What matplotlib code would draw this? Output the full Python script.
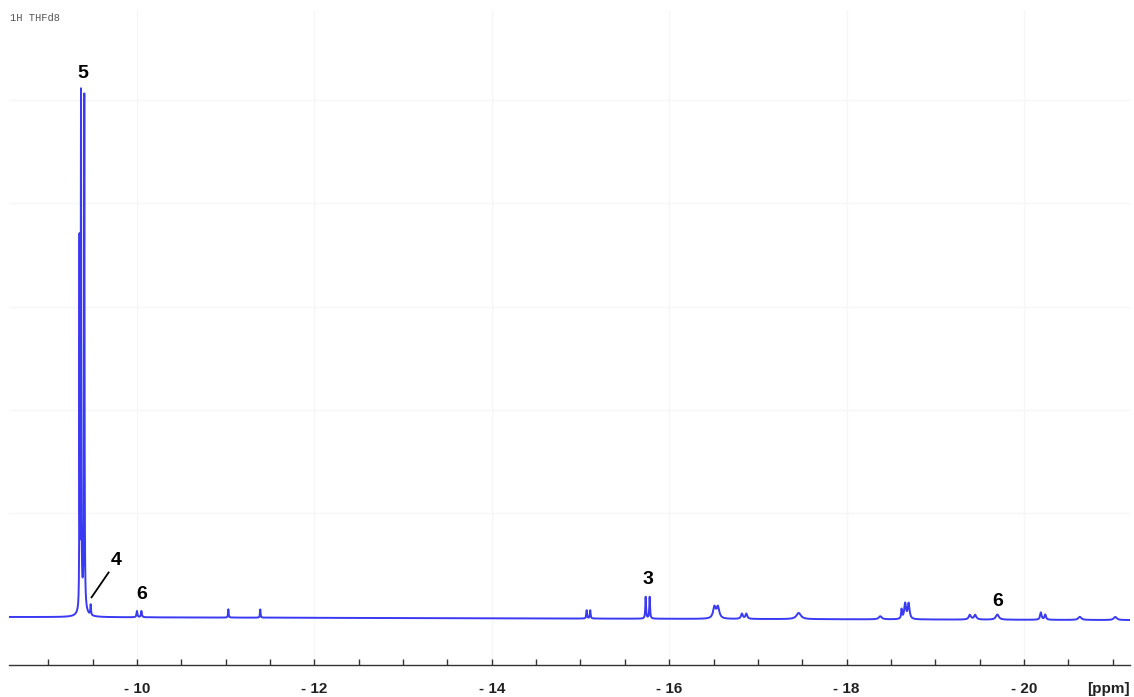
import numpy as np
import matplotlib
matplotlib.use("Agg")
import matplotlib.pyplot as plt
from matplotlib.ticker import MultipleLocator, FixedLocator

# ---- data (ppm, height in grid units, half-width ppm)
peak_ppm    = [-9.352, -9.369, -9.406, -9.39, -9.478, -10.00, -10.05, -11.03, -11.39,
               -15.07, -15.11, -15.735, -15.78, -16.51, -16.55, -16.82, -16.87,
               -17.46, -18.38, -18.62, -18.66, -18.70, -19.39, -19.45, -19.70,
               -20.19, -20.24, -20.63, -21.03]
peak_height = [3.5, 4.95, 4.93, 0.12, 0.10, 0.06, 0.06, 0.08, 0.08,
               0.08, 0.08, 0.21, 0.21, 0.11, 0.11, 0.05, 0.05,
               0.06, 0.03, 0.09, 0.15, 0.15, 0.045, 0.045, 0.05,
               0.07, 0.05, 0.03, 0.03]
peak_width  = [0.002, 0.003, 0.003, 0.03, 0.004, 0.006, 0.006, 0.004, 0.004,
               0.005, 0.005, 0.005, 0.005, 0.018, 0.018, 0.012, 0.012,
               0.03, 0.02, 0.006, 0.012, 0.012, 0.015, 0.015, 0.02,
               0.01, 0.01, 0.02, 0.02]
baseline_ppm = [-8.557, -21.195]
baseline_val = [0.0, -0.03]

label_text = ["5", "4", "6", "3", "6"]
label_ppm  = [-9.39, -9.76, -10.05, -15.76, -19.70]
label_y    = [5.25, 0.55, 0.22, 0.36, 0.15]

major_ticks = [-10, -12, -14, -16, -18, -20]
tick_labels = ["- 10", "- 12", "- 14", "- 16", "- 18", "- 20"]
xlim = (-8.557, -21.195)
ylim = (-0.464, 5.865)

# ---- build the spectrum from the peak list
x = np.arange(xlim[1], xlim[0], 0.0005)
y = np.interp(x, baseline_ppm[::-1], baseline_val[::-1])
for p, h, w in zip(peak_ppm, peak_height, peak_width):
    y = y + h * w**2 / ((x - p)**2 + w**2)

fig = plt.figure(figsize=(11.34, 6.97), dpi=100)
ax = fig.add_axes([9/1134, 32/697, 1121/1134, 655/697])

ax.plot(x, y, color="#3a3af2", lw=1.4, solid_joinstyle="round")

ax.set_xlim(*xlim)
ax.set_ylim(*ylim)

# grid
for g in major_ticks:
    ax.axvline(g, color="#f6f6f6", lw=1, zorder=0)
for g in [1, 2, 3, 4, 5]:
    ax.axhline(g, color="#f6f6f6", lw=1, zorder=0)

for s in ["left", "right", "top"]:
    ax.spines[s].set_visible(False)
ax.spines["bottom"].set_color("#333333")
ax.spines["bottom"].set_linewidth(1.0)
ax.set_yticks([])
ax.xaxis.set_major_locator(FixedLocator(major_ticks))
ax.set_xticklabels(tick_labels, fontfamily="Liberation Sans", fontweight="bold",
                   fontsize=11, color="#222222")
ax.xaxis.set_minor_locator(MultipleLocator(0.5))
ax.tick_params(axis="x", which="both", direction="in", length=4.5, width=1,
               color="#333333", pad=12)

ax.text(0.9995, -0.037, "[ppm]", transform=ax.transAxes, ha="right", va="center",
        fontfamily="Liberation Sans", fontweight="bold", fontsize=11, color="#222222")

fig.text(10/1134, 1 - 18/697, "1H THFd8", fontfamily="Liberation Mono",
         fontsize=7.5, color="#555555", ha="left", va="center")

for t, px, py in zip(label_text, label_ppm, label_y):
    ax.text(px, py, t, ha="center", va="center", fontfamily="Liberation Sans",
            fontweight="bold", fontsize=14, color="black")

# pointer line for label 4
ax.plot([-9.488, -9.68], [0.19, 0.43], color="black", lw=1.3)

fig.savefig("out.png", dpi=100)
